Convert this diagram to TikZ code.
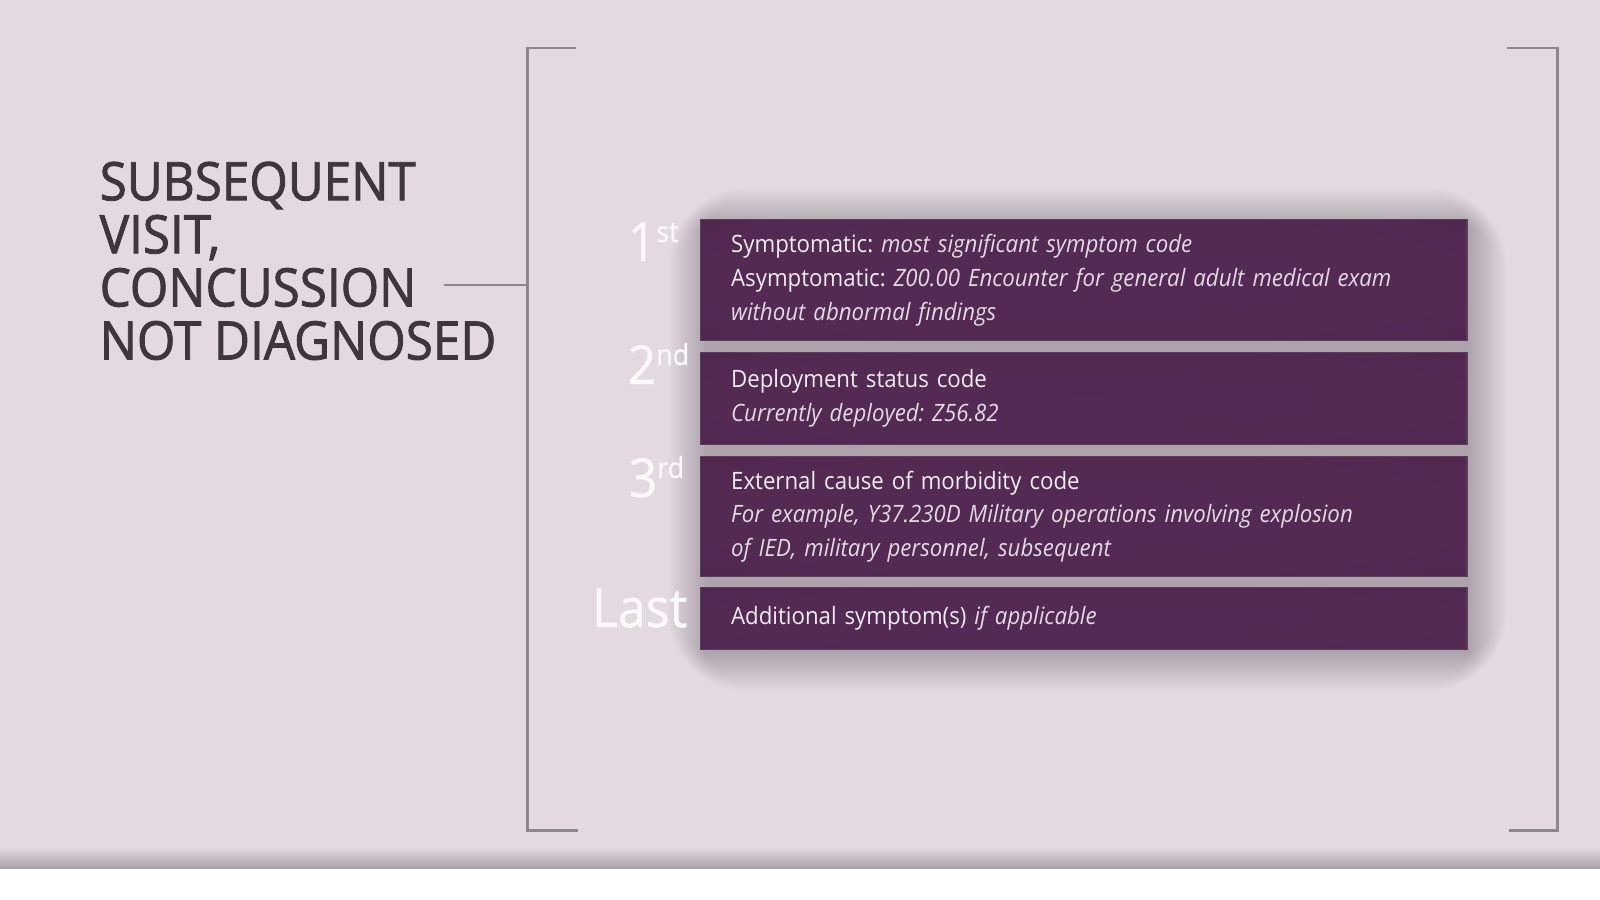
\documentclass[tikz,border=0pt]{standalone}
\usepackage{fontspec}
\setmainfont{Open Sans}[FakeStretch=0.93]
\usetikzlibrary{fadings}

\definecolor{bg}{HTML}{E2D9E1}
\definecolor{bandlow}{HTML}{ABA3AA}
\definecolor{boxedge}{HTML}{30142B}
\definecolor{boxmid}{HTML}{542B54}
\definecolor{boxrim}{HTML}{5E3D5A}
\definecolor{ink}{HTML}{3D373B}
\definecolor{rulegrey}{HTML}{8C878B}
\definecolor{boxtext}{HTML}{F3ECF2}
\definecolor{boxital}{HTML}{E4D9E2}
\definecolor{ranktext}{HTML}{FBF8FA}
\definecolor{shadowtint}{HTML}{2A1F29}

% soft vignette: bright centre, darker rim
\pgfdeclareradialshading{vignshade}{\pgfpointorigin}{%
  color(0bp)=(pgftransparent!0); color(30bp)=(pgftransparent!5);
  color(60bp)=(pgftransparent!55); color(71bp)=(pgftransparent!85)}
\pgfdeclarefading{vign}{\pgfuseshading{vignshade}}

\newcommand{\ordsup}[1]{\raisebox{5.4pt}{\fontsize{8.2pt}{8.2pt}\selectfont #1}}

\begin{document}
\frenchspacing
\begin{tikzpicture}[x=0.01cm, y=-0.01cm,
  rulestyle/.style={draw=rulegrey, line width=0.85pt},
  titletext/.style={inner sep=0pt, anchor=north west, align=left, text=ink,
    font=\fontsize{15.1pt}{15.1pt}\selectfont\addfontfeature{FakeBold=1.6}},
  codebox/.style={rectangle, anchor=north west, fill=boxedge,
    draw=boxrim, line width=0.3pt,
    text width=7.048cm, inner xsep=0.306cm, inner ysep=0pt, align=left,
    text=boxtext, font=\fontsize{6.8pt}{9.6pt}\selectfont,
    path picture={\fill[boxmid, path fading=vign]
      (path picture bounding box.south west) rectangle
      (path picture bounding box.north east);}},
  ranklabel/.style={inner sep=0pt, text=ranktext,
    font=\fontsize{15.3pt}{15.3pt}\selectfont\addfontfeature{FakeBold=0.8}},
  shadowlayer/.style={fill=shadowtint, fill opacity=0.014}
]
\useasboundingbox (0,0) rectangle (1600,900);

% backdrop with the darker band along the foot
\fill[white] (0,0) rectangle (1600,900);
\fill[bg] (0,0) rectangle (1600,848);
\shade[top color=bg, bottom color=bandlow] (0,847) rectangle (1600,868);

% brackets
\draw[rulestyle] (576,48) -- (527,48) -- (527,830) -- (578,830);
\draw[rulestyle] (1507,48) -- (1557,48) -- (1557,830) -- (1509,830);

% heading and its pointer into the bracket
\node[titletext] (title) at (99,161)
  {SUBSEQUENT\\VISIT,\\CONCUSSION\\NOT DIAGNOSED};
\coordinate (ptr) at (444,285);
\coordinate (brk) at (527,285);
\draw[rulestyle] (ptr) -- (brk);

% soft shadow behind the stack: many faint nested layers
\foreach \k in {0,...,17}{
  \pgfmathsetmacro{\d}{2.2*\k}
  \fill[shadowlayer, rounded corners=0.6*\d pt]
    (706-\d,226-\d) rectangle (1469+\d,653+\d);
}

% ordered code boxes
\node[codebox, minimum height=1.21cm] (b1) at (700,219)
  {Symptomatic: {\color{boxital}\itshape most significant symptom code}\\
   Asymptomatic: {\color{boxital}\itshape Z00.00 Encounter for general adult medical exam}\\
   {\color{boxital}\itshape without abnormal findings}};
\node[codebox, minimum height=0.92cm] (b2) at (700,352)
  {Deployment status code\\
   {\color{boxital}\itshape Currently deployed: Z56.82}};
\node[codebox, minimum height=1.20cm] (b3) at (700,456)
  {External cause of morbidity code\\
   {\color{boxital}\itshape For example, Y37.230D Military operations involving explosion}\\
   {\color{boxital}\itshape of IED, military personnel, subsequent}};
\node[codebox, minimum height=0.62cm] (b4) at (700,587)
  {Additional symptom(s) {\color{boxital}\itshape if applicable}};

% rank labels
\node[ranklabel, anchor=base west] (r1) at (627,261) {1\ordsup{st}};
\node[ranklabel, anchor=base west] (r2) at (627,384) {2\ordsup{nd}};
\node[ranklabel, anchor=base west] (r3) at (628,497) {3\ordsup{rd}};
\node[ranklabel, anchor=base east] (r4) at (688,627) {Last};
\end{tikzpicture}
\end{document}
